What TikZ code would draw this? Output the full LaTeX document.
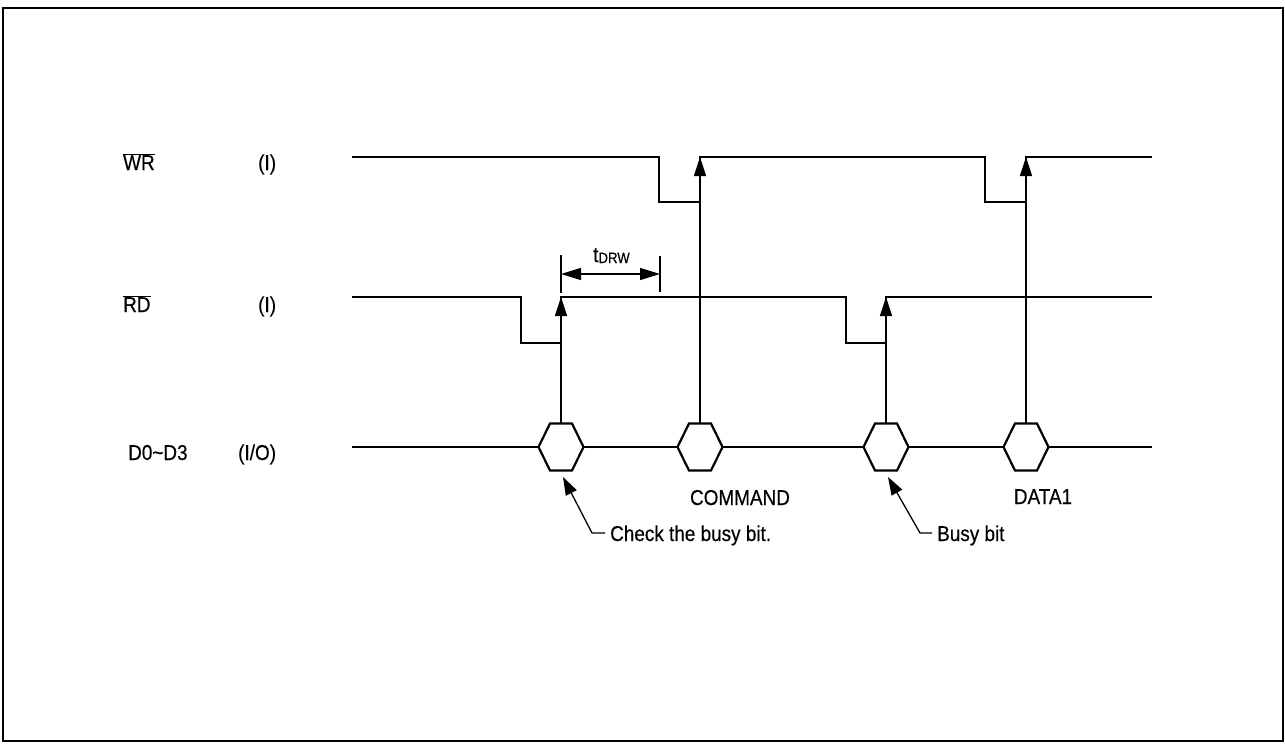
\documentclass[tikz,border=0pt]{standalone}
\usepackage{fontspec}
\setmainfont{Liberation Sans}
\newfontfamily\narrowfont[FakeStretch=0.88,FakeBold=0.4]{Liberation Sans}
\usetikzlibrary{arrows.meta,calc}
\begin{document}
\begin{tikzpicture}[x=1pt,y=-1pt,
  sig/.style={line width=2.2pt, line join=miter},
  frame/.style={line width=1.8pt},
  arr/.style={line width=1.3pt, -{Triangle[length=19pt,width=12pt]}},
  lead/.style={line width=1.3pt, -{Triangle[length=18pt,width=12pt]}},
  tick/.style={line width=1.2pt},
  lbl/.style={inner sep=0pt, font=\narrowfont\fontsize{21.5}{24}\selectfont},
  hexa/.style={line width=2.2pt, line join=miter}]
\useasboundingbox (0,0) rectangle (1285,744);
\draw[frame] (3,8) rectangle (1283,741);

% signal labels
\node[lbl, anchor=base west] (lwr) at (123,170) {$\overline{\hbox{WR}}$};
\node[lbl, anchor=base west] (lwrio) at (258,170) {(I)};
\node[lbl, anchor=base west] (lrd) at (123,312) {$\overline{\hbox{RD}}$};
\node[lbl, anchor=base west] (lrdio) at (258,312) {(I)};
\node[lbl, anchor=base west] (ld) at (128,460) {D0\textasciitilde D3};
\node[lbl, anchor=base west] (ldio) at (238,460) {(I/O)};

% WR
\draw[sig] (352,157) -| (659,202) -| (700,157) -| (985,202) -| (1026,157) -- (1152,157);
% RD
\draw[sig] (352,297) -| (521,343) -| (561,297) -| (846,343) -| (886,297) -- (1152,297);

\coordinate (wr1) at (700,157);
\coordinate (wr2) at (1026,157);
\coordinate (rd1) at (561,297);
\coordinate (rd2) at (886,297);

% data hexagons
\coordinate (h1) at (561,447);
\coordinate (h2) at (700,447);
\coordinate (h3) at (886,447);
\coordinate (h4) at (1026,447);
\foreach \h in {h1,h2,h3,h4}{
  \draw[hexa] (\h) ++(-22.5,0) -- ++(11.5,-23.5) -- ++(22,0) -- ++(11.5,23.5) -- ++(-11.5,23.5) -- ++(-22,0) -- cycle;
}
\draw[sig] (352,447) -- ($(h1)+(-22.5,0)$);
\draw[sig] ($(h1)+(22.5,0)$) -- ($(h2)+(-22.5,0)$);
\draw[sig] ($(h2)+(22.5,0)$) -- ($(h3)+(-22.5,0)$);
\draw[sig] ($(h3)+(22.5,0)$) -- ($(h4)+(-22.5,0)$);
\draw[sig] ($(h4)+(22.5,0)$) -- (1152,447);

% vertical arrows
\draw[arr] ($(h1)+(0,-23.5)$) -- (rd1);
\draw[arr] ($(h2)+(0,-23.5)$) -- (wr1);
\draw[arr] ($(h3)+(0,-23.5)$) -- (rd2);
\draw[arr] ($(h4)+(0,-23.5)$) -- (wr2);

% tDRW
\coordinate (tl) at (561,274);
\coordinate (tr) at (660,274);
\draw[tick] (561,255) -- (561,293);
\draw[tick] (660,256) -- (660,292);
\draw[line width=1.3pt, {Triangle[length=20pt,width=12pt]}-{Triangle[length=20pt,width=12pt]}] (tl) -- (tr);
\node[lbl, anchor=base west] (tdrw) at (593,262) {t\raisebox{-1pt}{\fontsize{15}{18}\selectfont DRW}};

% data labels
\node[lbl, anchor=base] (cmd) at (740,505) {COMMAND};
\node[lbl, anchor=base] (dat) at (1043,504) {DATA1};

% leaders
\node[lbl, anchor=base west] (chk) at (610,541) {Check the busy bit.};
\node[lbl, anchor=base west] (busy) at (937,541) {Busy bit};
\coordinate (c1) at (592,533);
\coordinate (c2) at (920,533);
\draw[lead] (chk.west |- c1) ++(-5,0) -- (c1) -- ($(h1)+(2,30)$);
\draw[lead] (busy.west |- c2) ++(-5,0) -- (c2) -- ($(h3)+(2,30)$);
\end{tikzpicture}
\end{document}
